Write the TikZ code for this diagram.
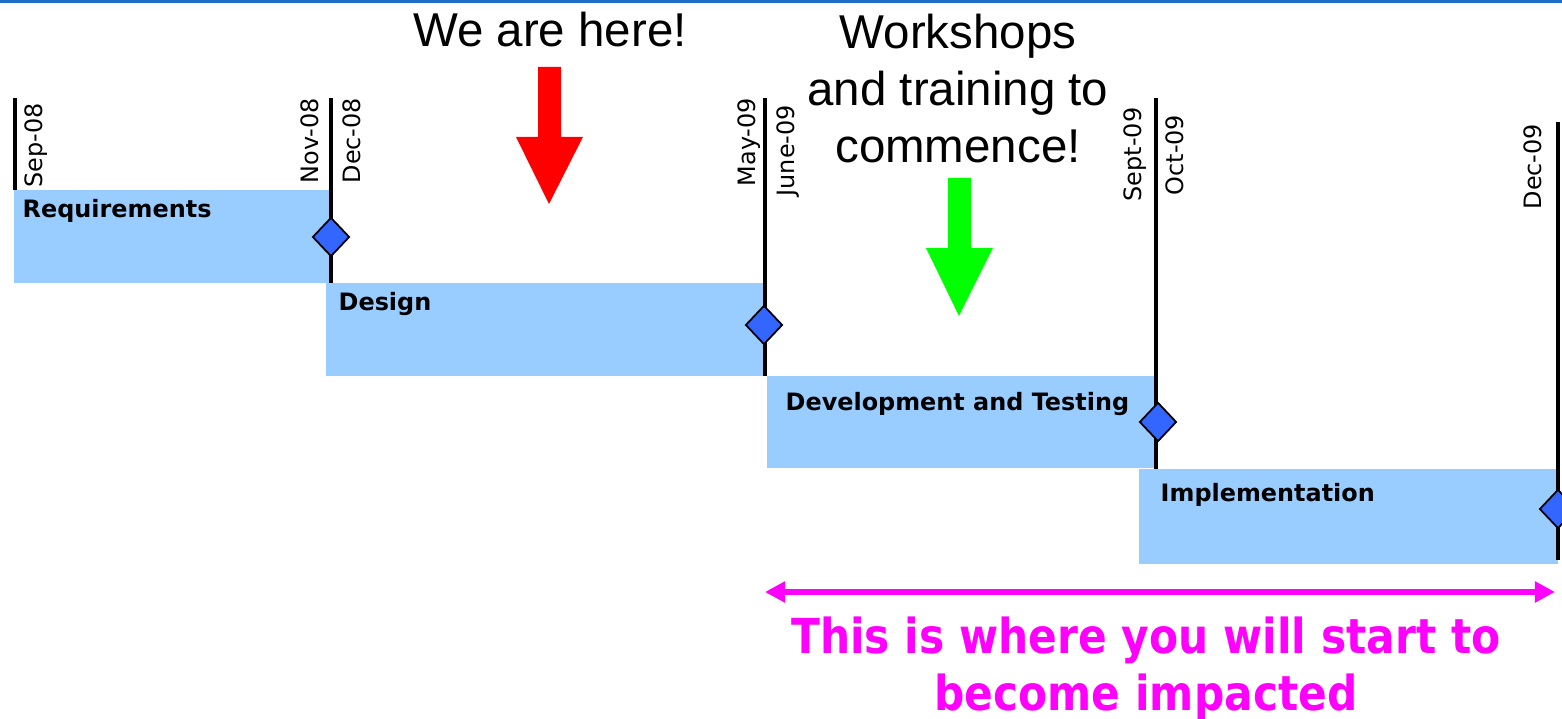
\documentclass[tikz,border=0pt]{standalone}
\usepackage{fontspec}
\setmainfont{Liberation Sans}
\newfontfamily\datefont{DejaVu Sans}
\newfontfamily\impactfont[FakeStretch=0.88]{DejaVu Sans}
\usetikzlibrary{arrows.meta, shapes.geometric}
\definecolor{barblue}{HTML}{99CCFF}
\definecolor{stoneblue}{HTML}{3366FF}
\definecolor{rulerblue}{RGB}{28,108,200}
\definecolor{impactpink}{RGB}{255,0,255}

\begin{document}
\begin{tikzpicture}[x=0.01cm, y=-0.01cm, >={Triangle[length=0.2cm, width=0.2cm]},
	bar/.style={fill=barblue},
	mile/.style={line width=0.9pt},
	stone/.style={diamond, draw, line width=0.5pt, fill=stoneblue, inner sep=0pt,
		minimum width=0.37cm, minimum height=0.39cm},
	date/.style={rotate=90, anchor=west, inner sep=0pt, font=\datefont\fontsize{6.8}{8}\selectfont},
	task/.style={anchor=base west, inner sep=0pt, font=\datefont\bfseries\fontsize{6.8}{8}\selectfont},
	callout/.style={align=center, inner sep=0pt, font=\fontsize{13.5}{16.2}\selectfont}]

\useasboundingbox (0,0) rectangle (1562,719);

% ==== top rule ====
\draw[rulerblue, line width=0.85pt] (0,1.5) -- (1562,1.5);

% ==== task bars ====
\fill[bar] (14,190) rectangle (331,283);
\fill[bar] (326,283) rectangle (765,376);
\fill[bar] (767,376) rectangle (1156,468);
\fill[bar] (1139,469) rectangle (1558,564);

\node[task] (req) at (22,218) {Requirements};
\node[task] (des) at (338,311) {Design};
\node[task] (dev) at (785,411) {Development and Testing};
\node[task] (imp) at (1160,502) {Implementation};

% ==== milestone lines ====
\foreach \x/\ya/\yb in {15/98/190, 331/98/283, 765/98/376, 1156/98/469, 1558/122/560}
	\draw[mile] (\x,\ya) -- (\x,\yb);

% month labels
\node[date] (sep08) at (36,188) {Sep-08};
\node[date] (nov08) at (310,184) {Nov-08};
\node[date] (dec08) at (352,184) {Dec-08};
\node[date] (may09) at (749,187) {May-09};
\node[date] (jun09) at (788,197) {June-09};
\node[date] (sept09) at (1135,202) {Sept-09};
\node[date] (oct09) at (1175,196) {Oct-09};
\node[date] (dec09) at (1533,210) {Dec-09};

% milestones
\node[stone] (m1) at (331,237) {};
\node[stone] (m2) at (764,325) {};
\node[stone] (m3) at (1158,422) {};
\node[stone] (m4) at (1558,509) {};

% ==== call-outs ====
\node[callout, anchor=base] (here) at (550,47) {We are here!};
\fill[red] (538,67) -- (561,67) -- (561,137) -- (583,137) -- (549,204)
	-- (516,137) -- (538,137) -- cycle;

\node[callout] (work) at (958,89) {Workshops\\and training to\\commence!};
\fill[green] (948,178) -- (971,178) -- (971,248) -- (993,248) -- (959,316)
	-- (926,248) -- (948,248) -- cycle;

% ==== impact span ====
\coordinate (spanL) at (765,592);
\coordinate (spanR) at (1555,592);
\draw[impactpink, line width=1.7pt, <->] (spanL) -- (spanR);
\node[align=center, inner sep=0pt, text=impactpink,
	font=\impactfont\bfseries\fontsize{13.7}{16.2}\selectfont] (impact) at (1146,669)
	{This is where you will start to\\become impacted};

\end{tikzpicture}
\end{document}
